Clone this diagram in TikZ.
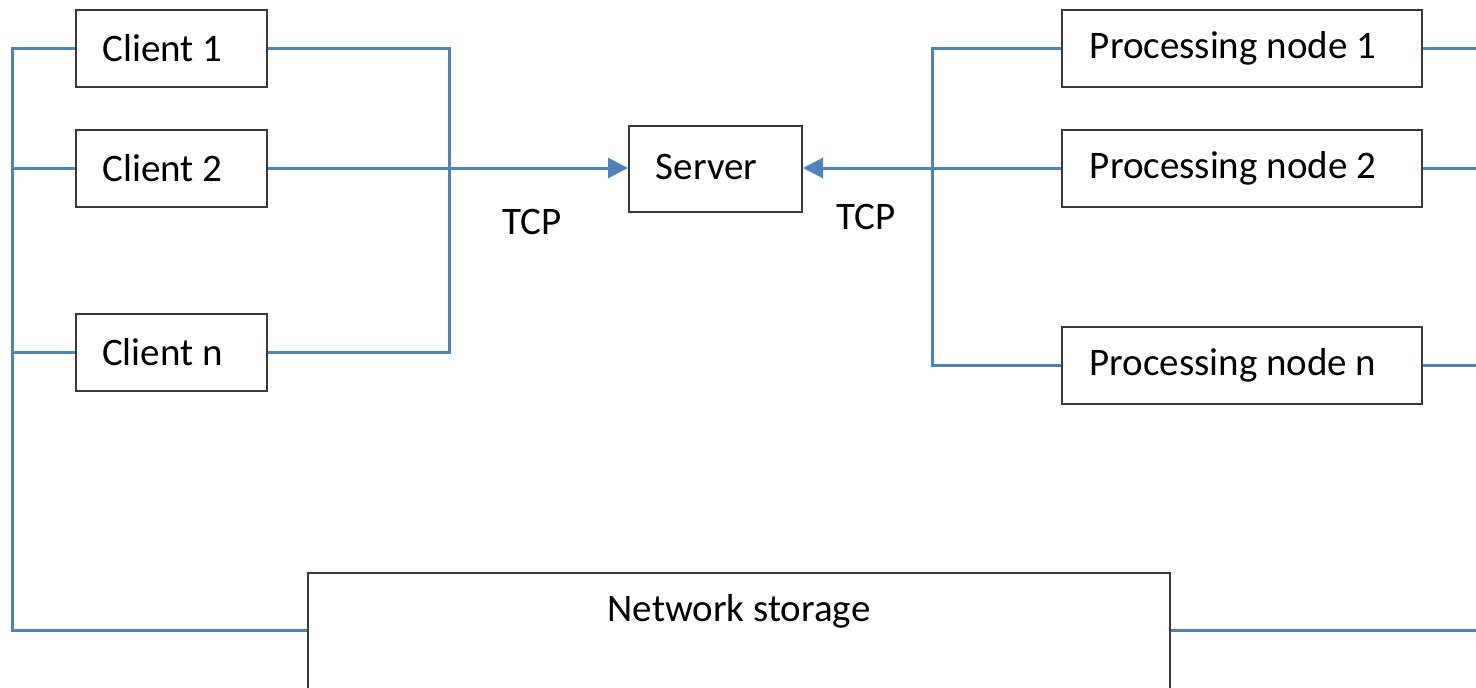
\documentclass[tikz,border=0pt]{standalone}
\usepackage{fontspec}
\setmainfont{Carlito}
\usetikzlibrary{arrows.meta}
\definecolor{busblue}{HTML}{4F81BD}
\definecolor{boxgray}{HTML}{3A3A3A}
\begin{document}
\begin{tikzpicture}[x=1pt,y=-1pt,
 box/.style={draw=boxgray, line width=2pt, fill=white, inner sep=0pt, font=\fontsize{39}{46}\selectfont, execute at end node={\hspace*{18pt}}},
 bus/.style={draw=busblue, line width=3pt},
 arr/.style={bus, -{Triangle[length=20pt,width=20pt]}},
 lbl/.style={font=\fontsize{39}{46}\selectfont}]
\useasboundingbox (0,0) rectangle (1476,688);
% clients
\node[box, minimum width=191pt, minimum height=77pt] (c1) at (171.5,48.5) {Client 1};
\node[box, minimum width=191pt, minimum height=77pt] (c2) at (171.5,168) {Client 2};
\node[box, minimum width=191pt, minimum height=77pt] (cn) at (171.5,352) {Client n};
% server
\node[box, minimum width=173pt, minimum height=86pt] (srv) at (715.5,169) {\raisebox{4pt}{Server}};
% processing nodes
\node[box, minimum width=360pt, minimum height=77pt] (p1) at (1242,48.5) {\raisebox{-2pt}{Processing node 1}};
\node[box, minimum width=360pt, minimum height=77pt] (p2) at (1242,168) {\raisebox{-2pt}{Processing node 2}};
\node[box, minimum width=360pt, minimum height=77pt] (pn) at (1242,365.5) {\raisebox{-2pt}{Processing node n}};
% network storage
\node[box, anchor=north west, minimum width=862pt, minimum height=140pt] (ns) at (307,572) {};
\node[lbl] (nst) at (739,611) {Network storage};
% labels
\node[lbl] (t1) at (532,222) {TCP};
\node[lbl] (t2) at (866,217) {TCP};
% coordinates
\coordinate (lb) at (12,630);
\coordinate (jl) at (449,0);
\coordinate (jr) at (932,0);
\coordinate (rb) at (1476,0);
% left bus
\draw[bus] (c1.west) -| (lb) -- (lb -| ns.west);
\draw[bus] (c2.west) -- (c2.west -| lb);
\draw[bus] (cn.west) -- (cn.west -| lb);
% client collector
\draw[bus] (c1.east) -| (jl |- cn.east) -- (cn.east);
\draw[arr] (c2.east) -- (c2.east -| srv.west);
% processing collector
\draw[bus] (p1.west) -| (jr |- pn.west) -- (pn.west);
\draw[arr] (p2.west) -- (p2.west -| srv.east);
% right bus
\draw[bus] (p1.east) -- (p1.east -| rb);
\draw[bus] (p2.east) -- (p2.east -| rb);
\draw[bus] (pn.east) -- (pn.east -| rb);
\draw[bus] (lb -| ns.east) -- (lb -| rb);
\end{tikzpicture}
\end{document}
